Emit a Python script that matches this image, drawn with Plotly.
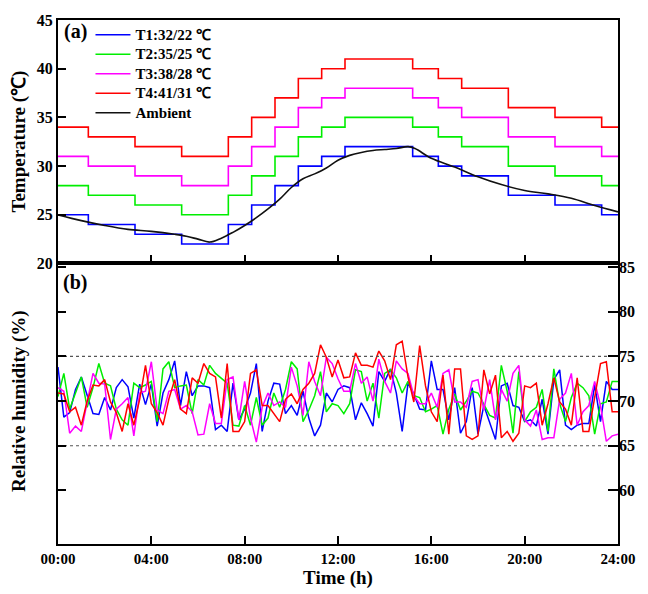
import plotly.graph_objects as go

# ---------------- data ----------------
step_times = [0, 1.3, 3.3, 5.3, 7.3, 8.3, 9.3, 10.3, 11.3, 12.3, 15.2, 16.3, 17.3, 19.3, 21.3, 23.3, 24]
t1_levels = [25, 24, 23, 22, 24, 26, 28, 30, 31, 32, 31, 30, 29, 27, 26, 25, 25]
t2_levels = [28, 27, 26, 25, 27, 29, 31, 33, 34, 35, 34, 33, 32, 30, 29, 28, 28]
t3_levels = [31, 30, 29, 28, 30, 32, 34, 36, 37, 38, 37, 36, 35, 33, 32, 31, 31]
t4_levels = [34, 33, 32, 31, 33, 35, 37, 39, 40, 41, 40, 39, 38, 36, 35, 34, 34]

amb_times = [0, 1, 2, 3, 4, 5, 5.5, 6, 6.5, 7, 7.5, 8, 8.5, 9, 9.5, 10, 10.5, 11, 11.5, 12,
             12.5, 13, 13.5, 14, 14.5, 15, 15.3, 16, 17, 18, 19, 20, 21, 22, 23, 24]
amb_temp = [25.0, 24.4, 23.9, 23.5, 23.3, 23.0, 22.8, 22.5, 22.2, 22.6, 23.2, 23.9, 24.7, 25.6,
            26.6, 27.8, 28.7, 29.2, 29.8, 30.6, 31.1, 31.4, 31.6, 31.7, 31.8, 32.0, 31.8, 30.8,
            29.9, 28.9, 28.1, 27.5, 27.15, 26.7, 25.95, 25.3]

hum_step_h = 0.25
rh_t1 = [73.8, 68.2, 68.7, 71.3, 72.7, 70.6, 68.6, 68.5, 70.4, 69.0, 71.5, 72.4, 71.6, 68.1, 71.9, 69.6,
         71.9, 67.2, 70.9, 72.4, 74.5, 69.5, 73.3, 70.6, 71.7,
         71.7, 71.5, 66.8, 67.3, 66.6, 72.0, 67.9, 69.1, 70.9, 74.2, 66.6, 70.0, 72.0, 71.9, 68.6,
         69.5, 68.4, 71.1, 68.1, 66.1, 67.3, 70.9, 69.9, 71.3,
         71.7, 71.5, 67.9, 69.8, 68.6, 67.2, 73.3, 72.2, 73.6, 70.9, 66.6, 72.0, 70.8, 69.1, 69.0,
         74.5, 71.3, 71.3, 67.9, 71.5, 66.4, 67.7, 71.5, 66.3,
         69.5, 67.7, 65.7, 71.7, 72.0, 69.5, 69.3, 67.7, 67.9, 67.2, 70.2, 66.3, 72.4, 73.5, 67.3,
         66.8, 67.3, 67.5, 67.5, 71.8, 67.7, 72.2, 71.3, 71.3]
rh_t2 = [70.5, 73.1, 69.1, 70.9, 72.7, 69.3, 71.5, 74.2, 72.0, 71.7, 69.1, 67.9, 67.3, 72.0, 71.5, 71.8,
         72.2, 67.7, 73.6, 74.4, 71.5, 71.7, 71.8, 68.6, 72.4,
         71.8, 74.0, 73.1, 72.6, 72.0, 67.3, 67.2, 69.5, 67.3, 70.4, 67.3, 68.1, 70.9, 69.3, 71.3,
         74.4, 73.6, 67.7, 69.0, 70.6, 73.3, 68.8, 69.7, 69.5,
         68.6, 69.7, 73.5, 73.3, 70.0, 72.0, 68.1, 73.1, 73.5, 72.6, 70.9, 72.2, 70.6, 70.4, 68.8,
         69.1, 69.5, 66.3, 69.1, 70.8, 69.0, 70.0, 71.1, 70.9,
         69.7, 68.4, 68.1, 74.0, 71.1, 66.4, 73.3, 67.7, 68.8, 69.3, 71.3, 66.6, 73.6, 69.7, 67.7,
         70.4, 72.0, 71.5, 70.6, 66.3, 69.7, 69.9, 72.2, 72.2]
rh_t3 = [71.5, 71.1, 66.4, 67.2, 66.6, 69.9, 73.1, 72.0, 71.9, 65.7, 69.1, 69.7, 70.4, 66.1, 70.9, 71.1,
         74.4, 69.0, 68.6, 71.1, 71.3, 69.1, 69.5, 68.8, 66.2,
         66.3, 69.7, 67.5, 67.5, 72.4, 72.7, 67.9, 72.2, 68.1, 65.4, 69.3, 70.9, 69.5, 69.9, 69.3,
         73.8, 71.7, 68.4, 74.4, 72.2, 70.6, 74.9, 74.2, 72.5,
         71.1, 71.1, 74.2, 72.0, 72.7, 70.0, 74.7, 72.2, 70.9, 74.5, 73.6, 73.1, 70.6, 69.7, 69.7,
         70.9, 69.3, 73.1, 73.5, 69.9, 69.9, 69.3, 72.2, 72.4,
         69.0, 72.4, 67.9, 71.3, 70.0, 73.1, 74.0, 67.9, 67.2, 69.0, 65.7, 65.9, 65.9, 70.2, 70.9,
         73.1, 67.3, 68.8, 69.5, 72.2, 69.5, 65.5, 66.1, 66.3]
rh_t4 = [70.9, 70.8, 68.8, 69.3, 67.3, 70.0, 71.8, 71.7, 72.4, 69.9, 68.7, 66.6, 69.7, 67.3, 70.2, 74.0,
         69.7, 68.7, 67.3, 70.2, 72.4, 69.1, 68.6, 72.6, 72.0,
         74.2, 73.1, 72.7, 68.1, 74.2, 66.6, 66.6, 67.7, 73.1, 73.5, 69.5, 69.5, 68.6, 67.7, 70.2,
         70.8, 69.7, 71.3, 72.0, 73.1, 76.3, 74.9, 72.7, 74.6,
         72.6, 72.7, 75.4, 74.0, 74.0, 73.8, 75.6, 74.5, 72.4, 76.3, 76.7, 72.7, 69.9, 76.2, 71.7,
         68.8, 67.7, 72.9, 66.3, 73.6, 73.6, 66.1, 65.7, 66.1,
         73.5, 70.8, 72.9, 65.9, 66.6, 65.5, 66.4, 71.7, 71.5, 72.0, 67.3, 69.7, 72.6, 69.9, 69.1,
         67.3, 72.6, 66.6, 66.6, 70.6, 74.2, 74.4, 68.8, 68.8]
hum_times = [i * hum_step_h for i in range(len(rh_t1))]

rh_limits = [65, 75]

series_names = ["T1:32/22 ℃", "T2:35/25 ℃", "T3:38/28 ℃", "T4:41/31 ℃"]
colors = ["#0000FF", "#00EE00", "#FF00FF", "#FF0000"]

tick_hours = [0, 4, 8, 12, 16, 20, 24]
tick_text = ["00:00", "04:00", "08:00", "12:00", "16:00", "20:00", "24:00"]
temp_ticks = [20, 25, 30, 35, 40, 45]
rh_ticks = [60, 65, 70, 75, 80, 85]

# ---------------- figure ----------------
FONT = "Liberation Serif"
fig = go.Figure()


def leg(txt):
    return "<span style='font-size:15px'>" + txt + "</span>"


for name, lv, c in zip(series_names, [t1_levels, t2_levels, t3_levels, t4_levels], colors):
    fig.add_trace(go.Scatter(x=step_times, y=lv, mode="lines", name=leg(name),
                             line=dict(color=c, width=1.6, shape="hv"),
                             xaxis="x", yaxis="y"))
fig.add_trace(go.Scatter(x=amb_times, y=amb_temp, mode="lines", name=leg("Ambient"),
                         line=dict(color="#111111", width=1.6, shape="spline"),
                         xaxis="x", yaxis="y"))

for lv in rh_limits:
    fig.add_trace(go.Scatter(x=[0, 24], y=[lv, lv], mode="lines", showlegend=False,
                             line=dict(color="#555555", width=1.2, dash="dot"),
                             xaxis="x2", yaxis="y3", hoverinfo="skip"))

for rh, c in zip([rh_t1, rh_t2, rh_t3, rh_t4], colors):
    fig.add_trace(go.Scatter(x=hum_times, y=rh, mode="lines", showlegend=False,
                             line=dict(color=c, width=1.5),
                             xaxis="x2", yaxis="y2"))

ax_common = dict(showline=True, linecolor="black", linewidth=2, mirror=True,
                 ticks="inside", tickcolor="black", tickwidth=1.5, ticklen=8,
                 showgrid=False, zeroline=False)
tickfont = dict(family=FONT, size=16, color="black", weight="bold")

split = (553 - 265) / 538.0

fig.update_layout(
    width=648, height=594,
    margin=dict(l=58, r=27, t=15, b=41),
    paper_bgcolor="white", plot_bgcolor="white",
    xaxis=dict(domain=[0, 1], range=[0, 24], anchor="y", tickvals=tick_hours,
               showticklabels=False, **ax_common),
    yaxis=dict(domain=[split, 1], range=[20, 45], anchor="x", tickvals=temp_ticks,
               tickfont=tickfont, **ax_common),
    xaxis2=dict(domain=[0, 1], range=[0, 24], anchor="y2", tickvals=tick_hours,
                ticktext=tick_text, tickfont=dict(family=FONT, size=15, color="black", weight="bold"),
                title=dict(text="Time (h)", font=dict(family=FONT, size=19, color="black", weight="bold"),
                           standoff=2),
                **ax_common),
    yaxis2=dict(domain=[0, split], range=[54, 85.4], anchor="x2", tickvals=rh_ticks,
                showticklabels=False, **ax_common),
    yaxis3=dict(range=[54, 85.4], anchor="x2", overlaying="y2", side="right",
                tickvals=rh_ticks, tickfont=tickfont, showline=False,
                ticks="inside", tickcolor="black", tickwidth=1.5, ticklen=10,
                showgrid=False, zeroline=False),
    legend=dict(x=0.058, y=1.0, xanchor="left", yanchor="top",
                font=dict(family=FONT, size=12.7, color="black", weight="bold"),
                bgcolor="rgba(0,0,0,0)", borderwidth=0, itemwidth=35),
    showlegend=True,
)

ann_font = dict(family=FONT, size=20, color="black", weight="bold")
fig.add_annotation(text="(a)", xref="paper", yref="paper", x=0.008, y=1.003,
                   xanchor="left", yanchor="top", showarrow=False, font=ann_font)
fig.add_annotation(text="(b)", xref="paper", yref="paper", x=0.006, y=split - 0.01,
                   xanchor="left", yanchor="top", showarrow=False, font=ann_font)
title_font = dict(family=FONT, size=19, color="black", weight="bold")
fig.add_annotation(text="Temperature (℃)", xref="paper", yref="paper",
                   x=-0.07, y=(split + 1) / 2, xanchor="center", yanchor="middle",
                   textangle=-90, showarrow=False, font=title_font)
fig.add_annotation(text="Relative humidity (%)", xref="paper", yref="paper",
                   x=-0.07, y=split / 2 + 0.005, xanchor="center", yanchor="middle",
                   textangle=-90, showarrow=False, font=title_font)

fig.write_html("out.html")
